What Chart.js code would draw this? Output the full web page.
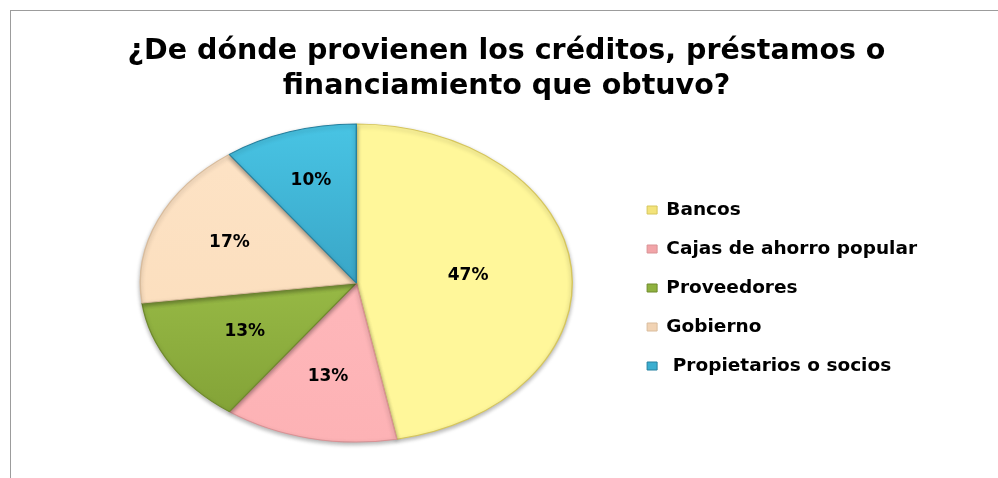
<!DOCTYPE html>
<html>
<head>
<meta charset="utf-8">
<script src="https://cdn.jsdelivr.net/npm/chart.js@4/dist/chart.umd.min.js"></script>
<style>
    html, body { margin: 0; padding: 0; background: #ffffff; }
    #frame {
        position: absolute;
        left: 10px;
        top: 10px;
        width: 988px;
        height: 468px;
        border-left: 1px solid #9c9c9c;
        border-top: 1px solid #9c9c9c;
    }
    #chartBox { position: absolute; left: 0; top: 0; width: 988px; height: 468px; }
</style>
</head>
<body>
<div id="frame">
    <div id="chartBox"><canvas id="pieChart"></canvas></div>
</div>
<script>
// Chart data
const categories = ['Bancos', 'Cajas de ahorro popular', 'Proveedores', 'Gobierno', ' Propietarios o socios'];
const percentages = [47, 13, 13, 17, 10];
const titleLines = ['¿De dónde provienen los créditos, préstamos o', 'financiamiento que obtuvo?'];

// Slice colours: [top, bottom] of a vertical shade, plus the edge colour
const sliceShades = [
    ['#fff79a', '#fbea78'],
    ['#ffbcbf', '#fdb2b5'],
    ['#aed356', '#7f9e34'],
    ['#fde3c6', '#fbdcb9'],
    ['#48c4e4', '#2b88aa']
];
const sliceEdges = ['#d6c65c', '#d99295', '#6f8a2c', '#d9bc9c', '#25809f'];
const legendColours = ['#f3e37a', '#f2a4a8', '#8fb23f', '#f1d3b4', '#3aaed0'];

// Pie is drawn as a circle and stretched sideways into an ellipse
const PIE_RADIUS = 159;
const STRETCH_X = 216 / 159;
// how far out (fraction of radius) each percentage label sits
const labelDepth = [0.52, 0.6, 0.6, 0.64, 0.68];

/**
 * Vertical gradient for one slice, spanning the whole pie
 */
function sliceFill(context) {
    const chart = context.chart;
    const i = context.dataIndex;
    const arc = chart.getDatasetMeta(0).data[0];
    if (!arc || !arc.y) return sliceShades[i][0];
    const g = chart.ctx.createLinearGradient(0, arc.y - PIE_RADIUS, 0, arc.y + PIE_RADIUS);
    g.addColorStop(0, sliceShades[i][0]);
    g.addColorStop(1, sliceShades[i][1]);
    return g;
}

/**
 * Stretch the pie horizontally and give it a soft shadow
 */
const ellipsePlugin = {
    id: 'ellipsePie',
    beforeDatasetsDraw(chart) {
        const arc = chart.getDatasetMeta(0).data[0];
        const ctx = chart.ctx;
        ctx.save();
        ctx.translate(arc.x, arc.y);
        ctx.scale(STRETCH_X, 1);
        ctx.translate(-arc.x, -arc.y);
        ctx.shadowColor = 'rgba(0, 0, 0, 0.3)';
        ctx.shadowBlur = 4;
        ctx.shadowOffsetY = 2;
    },
    afterDatasetsDraw(chart) {
        chart.ctx.restore();
    }
};

/**
 * Percentage labels inside the slices
 */
const sliceLabelPlugin = {
    id: 'sliceLabels',
    afterDatasetsDraw(chart) {
        const ctx = chart.ctx;
        const arcs = chart.getDatasetMeta(0).data;
        ctx.save();
        ctx.font = 'bold 17px "DejaVu Sans", sans-serif';
        ctx.fillStyle = '#000000';
        ctx.textAlign = 'center';
        ctx.textBaseline = 'middle';
        arcs.forEach((arc, i) => {
            const mid = (arc.startAngle + arc.endAngle) / 2;
            const r = arc.outerRadius * labelDepth[i];
            const x = arc.x + Math.cos(mid) * r * STRETCH_X;
            const y = arc.y + Math.sin(mid) * r;
            ctx.fillText(percentages[i] + '%', x, y);
        });
        ctx.restore();
    }
};

new Chart(document.getElementById('pieChart'), {
    type: 'pie',
    data: {
        labels: categories,
        datasets: [{
            data: percentages,
            backgroundColor: sliceFill,
            borderColor: sliceEdges,
            borderWidth: 1,
            hoverOffset: 0
        }]
    },
    options: {
        responsive: true,
        maintainAspectRatio: false,
        animation: false,
        radius: PIE_RADIUS,
        layout: {
            padding: { top: 23, left: 75, right: 72, bottom: 37 }
        },
        plugins: {
            title: {
                display: true,
                text: titleLines,
                color: '#000000',
                font: { family: 'DejaVu Sans', size: 28.5, weight: 'bold', lineHeight: 1.23 },
                padding: { top: 0, bottom: 20 }
            },
            legend: {
                position: 'right',
                // empty legend title only pushes the entries down
                title: {
                    display: true,
                    text: '',
                    font: { size: 12, lineHeight: 1 },
                    padding: { top: 88, bottom: 0 }
                },
                labels: {
                    color: '#000000',
                    font: { family: 'DejaVu Sans', size: 18.5, weight: 'bold' },
                    boxWidth: 10,
                    boxHeight: 8,
                    padding: 20.5,
                    generateLabels(chart) {
                        return categories.map((name, i) => ({
                            text: name,
                            fillStyle: legendColours[i],
                            strokeStyle: sliceEdges[i],
                            fontColor: '#000000',
                            lineWidth: 1,
                            hidden: false,
                            index: i
                        }));
                    }
                }
            },
            tooltip: { enabled: false }
        }
    },
    plugins: [ellipsePlugin, sliceLabelPlugin]
});
</script>
</body>
</html>
